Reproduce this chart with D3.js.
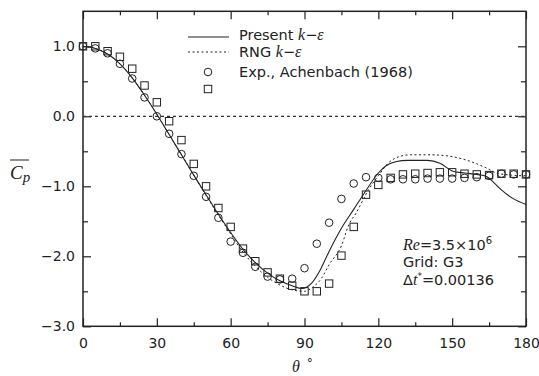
<html>
<head>
<script src="https://d3js.org/d3.v7.min.js"></script>
<style>
  body { margin: 0; background: #fff; }
  text { font-family: "DejaVu Sans", sans-serif; fill: #222; }
  .math { font-family: "Liberation Serif", serif; font-style: italic; }
</style>
</head>
<body>
<div id="chart"></div>
<script>
// angle positions of the experimental points (deg)
const expTheta = [0,5,10,15,20,25,30,35,40,45,50,55,60,65,70,75,80,85,90,95,100,105,110,115,120,125,130,135,140,145,150,155,160,165,170,175,180];
// Achenbach circles
const expCircle = [1.0,0.97,0.9,0.75,0.54,0.27,0.0,-0.25,-0.54,-0.85,-1.15,-1.45,-1.79,-1.95,-2.15,-2.29,-2.33,-2.32,-2.17,-1.82,-1.52,-1.18,-0.96,-0.87,-0.88,-0.9,-0.9,-0.9,-0.89,-0.89,-0.89,-0.88,-0.87,-0.85,-0.82,-0.83,-0.83];
// Achenbach squares
const expSquare = [1.0,1.0,0.93,0.85,0.68,0.44,0.2,-0.07,-0.34,-0.68,-1.0,-1.31,-1.58,-1.89,-2.07,-2.23,-2.32,-2.42,-2.5,-2.5,-2.39,-1.99,-1.58,-1.12,-0.98,-0.88,-0.83,-0.82,-0.81,-0.8,-0.8,-0.82,-0.83,-0.84,-0.82,-0.82,-0.83];

// present k-eps
const presTheta = [0,5,10,15,20,25,30,35,40,45,50,55,60,65,70,75,80,85,89,93,96,100,105,110,115,120,123,127,132,140,145,150,155,160,164,167,170,175,180];
const presCp    = [1.0,0.97,0.89,0.75,0.55,0.3,0.03,-0.26,-0.55,-0.84,-1.12,-1.4,-1.66,-1.9,-2.09,-2.24,-2.35,-2.42,-2.46,-2.38,-2.22,-1.93,-1.6,-1.33,-1.06,-0.81,-0.71,-0.65,-0.63,-0.63,-0.67,-0.78,-0.81,-0.83,-0.86,-0.95,-1.05,-1.18,-1.26];

// RNG k-eps
const rngTheta = [0,5,10,15,20,25,30,35,40,45,50,55,60,65,70,75,80,85,90,93,97,100,105,108,111,116,120,124,129,133,141,149,157,164,168,174,180];
const rngCp    = [1.0,0.97,0.89,0.75,0.55,0.3,0.03,-0.26,-0.55,-0.84,-1.13,-1.41,-1.68,-1.94,-2.14,-2.3,-2.41,-2.48,-2.5,-2.45,-2.31,-2.12,-1.85,-1.55,-1.38,-1.05,-0.85,-0.67,-0.57,-0.55,-0.55,-0.57,-0.64,-0.74,-0.81,-0.84,-0.85];

const xMajor = [0,30,60,90,120,150,180];
const xMinor = [15,45,75,105,135,165];
const yMajor = [-3,-2,-1,0,1];
const yMinor = [-2.5,-1.5,-0.5,0.5];

const svg = d3.select('#chart').append('svg')
    .attr('width', 539)
    .attr('height', 376);

const pLeft = 83, pRight = 526, pTop = 11.3, pBottom = 326.3;
const xScale = d3.scaleLinear().domain([0, 180]).range([pLeft, pRight]);
const yScale = d3.scaleLinear().domain([-3, 1.5]).range([pBottom, pTop]);

// ticks, all pointing inward
function addAxis(axis, tx, ty) {
    const g = svg.append('g')
        .attr('transform', `translate(${tx},${ty})`)
        .call(axis);
    g.select('.domain').remove();
    g.selectAll('line').attr('stroke', '#222').attr('stroke-width', 1.2);
    return g;
}
const fmt = d => (d < 0 ? '\u2212' : '') + Math.abs(d).toFixed(1);

let bx = addAxis(d3.axisBottom(xScale).tickValues(xMajor).tickSize(-8).tickPadding(12), 0, pBottom);
bx.selectAll('text').attr('font-size', 14).attr('fill', '#222').attr('font-family', '"DejaVu Sans", sans-serif');
addAxis(d3.axisBottom(xScale).tickValues(xMinor).tickSize(-4).tickFormat(''), 0, pBottom);
addAxis(d3.axisTop(xScale).tickValues(xMajor).tickSize(-8).tickFormat(''), 0, pTop);
addAxis(d3.axisTop(xScale).tickValues(xMinor).tickSize(-4).tickFormat(''), 0, pTop);

let ly = addAxis(d3.axisLeft(yScale).tickValues(yMajor).tickSize(-8).tickPadding(8).tickFormat(fmt), pLeft, 0);
ly.selectAll('text').attr('font-size', 14).attr('fill', '#222').attr('font-family', '"DejaVu Sans", sans-serif');
addAxis(d3.axisLeft(yScale).tickValues(yMinor).tickSize(-5).tickFormat(''), pLeft, 0);
addAxis(d3.axisRight(yScale).tickValues(yMajor).tickSize(-8).tickFormat(''), pRight, 0);
addAxis(d3.axisRight(yScale).tickValues(yMinor).tickSize(-5).tickFormat(''), pRight, 0);

// frame
svg.append('rect')
    .attr('x', pLeft).attr('y', pTop)
    .attr('width', pRight - pLeft).attr('height', pBottom - pTop)
    .attr('fill', 'none').attr('stroke', '#222').attr('stroke-width', 1.5);

// zero line
svg.append('line')
    .attr('x1', pLeft).attr('x2', pRight)
    .attr('y1', yScale(0)).attr('y2', yScale(0))
    .attr('stroke', '#333').attr('stroke-width', 1.2)
    .attr('stroke-dasharray', '3,3');

const line = d3.line()
    .x(d => xScale(d[0]))
    .y(d => yScale(d[1]))
    .curve(d3.curveMonotoneX);

svg.append('path')
    .attr('d', line(presTheta.map((t, i) => [t, presCp[i]])))
    .attr('fill', 'none').attr('stroke', '#222').attr('stroke-width', 1.1);

svg.append('path')
    .attr('d', line(rngTheta.map((t, i) => [t, rngCp[i]])))
    .attr('fill', 'none').attr('stroke', '#222').attr('stroke-width', 1)
    .attr('stroke-dasharray', '2,2.5');

// experiments
expTheta.forEach((t, i) => {
    svg.append('circle')
        .attr('cx', xScale(t)).attr('cy', yScale(expCircle[i]))
        .attr('r', 3.8)
        .attr('fill', 'none').attr('stroke', '#222').attr('stroke-width', 1);
    svg.append('rect')
        .attr('x', xScale(t) - 3.7).attr('y', yScale(expSquare[i]) - 3.7)
        .attr('width', 7.4).attr('height', 7.4)
        .attr('fill', 'none').attr('stroke', '#222').attr('stroke-width', 1);
});

// legend
svg.append('line').attr('x1', 188).attr('x2', 229).attr('y1', 37).attr('y2', 37)
    .attr('stroke', '#222').attr('stroke-width', 1.1);
svg.append('line').attr('x1', 188).attr('x2', 229).attr('y1', 52).attr('y2', 52)
    .attr('stroke', '#222').attr('stroke-width', 1).attr('stroke-dasharray', '2,2.5');
svg.append('circle').attr('cx', 208).attr('cy', 72).attr('r', 3.8)
    .attr('fill', 'none').attr('stroke', '#222');
svg.append('rect').attr('x', 204.3).attr('y', 85.3).attr('width', 7.4).attr('height', 7.4)
    .attr('fill', 'none').attr('stroke', '#222');

let t1 = svg.append('text').attr('x', 239).attr('y', 40).attr('font-size', 14.5);
t1.append('tspan').text('Present ');
t1.append('tspan').attr('class', 'math').attr('font-size', 16).text('k');
t1.append('tspan').text('\u2212');
t1.append('tspan').attr('class', 'math').attr('font-size', 16).text('\u03b5');

let t2 = svg.append('text').attr('x', 239).attr('y', 56.5).attr('font-size', 14.5);
t2.append('tspan').text('RNG ');
t2.append('tspan').attr('class', 'math').attr('font-size', 16).text('k');
t2.append('tspan').text('\u2212');
t2.append('tspan').attr('class', 'math').attr('font-size', 16).text('\u03b5');

svg.append('text').attr('x', 239).attr('y', 76.5).attr('font-size', 14.5)
    .text('Exp., Achenbach (1968)');

// annotation
let a1 = svg.append('text').attr('x', 403).attr('y', 250).attr('font-size', 14.5);
a1.append('tspan').attr('class', 'math').attr('font-size', 16).text('Re');
a1.append('tspan').text('=3.5\u00d710');
a1.append('tspan').attr('font-size', 10).attr('dy', -6).text('6');

svg.append('text').attr('x', 403).attr('y', 267).attr('font-size', 14.5).text('Grid:  G3');

let a3 = svg.append('text').attr('x', 403).attr('y', 285).attr('font-size', 14.5);
a3.append('tspan').text('\u0394');
a3.append('tspan').attr('class', 'math').attr('font-size', 16).text('t');
a3.append('tspan').attr('font-size', 9).attr('dy', -6).text('*');
a3.append('tspan').attr('dy', 6).text('=0.00136');

// axis titles
let yl = svg.append('text').attr('x', 10).attr('y', 179).attr('font-size', 19);
yl.append('tspan').attr('class', 'math').text('C');
yl.append('tspan').attr('class', 'math').attr('font-size', 15).attr('dy', 3).text('p');
svg.append('line').attr('x1', 10).attr('x2', 29).attr('y1', 160).attr('y2', 160)
    .attr('stroke', '#222').attr('stroke-width', 1);

let xl = svg.append('text').attr('x', 292).attr('y', 372).attr('font-size', 16);
xl.append('tspan').attr('class', 'math').text('\u03b8');
xl.append('tspan').attr('font-size', 12).attr('dx', 7).attr('dy', -5).text('\u00b0');
</script>
</body>
</html>
